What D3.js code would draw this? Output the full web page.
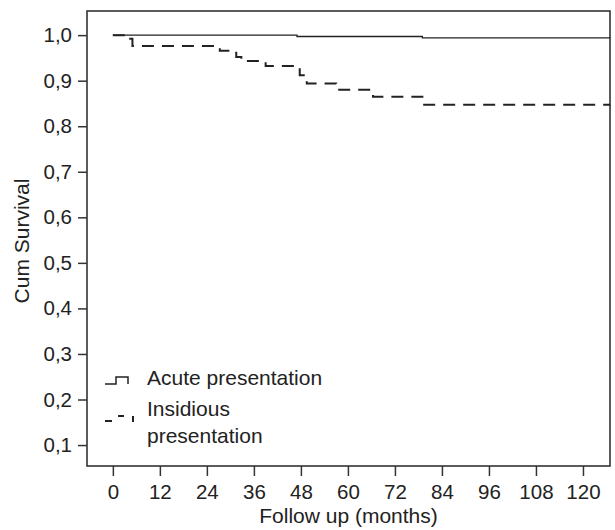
<!DOCTYPE html>
<html>
<head>
<meta charset="utf-8">
<script src="https://cdn.jsdelivr.net/npm/d3@7"></script>
<style>
  body { margin: 0; background: #fff; }
  svg text { font-family: "Liberation Sans", Arial, Helvetica, sans-serif; fill: #222; }
</style>
</head>
<body>
<svg id="chart" width="615" height="530"></svg>
<script>
// survival steps (months, cumulative survival)
const acuteTime = [0, 47, 79, 127];
const acuteSurv = [1.0, 0.997, 0.994, 0.994];
const insidTime = [0, 3.3, 5, 27.3, 31.5, 32.8, 39, 47.7, 49.5, 57, 66.4, 79, 127];
const insidSurv = [1.0, 0.992, 0.976, 0.966, 0.952, 0.943, 0.932, 0.912, 0.894, 0.880, 0.865, 0.847, 0.847];

const xTicks = [0, 12, 24, 36, 48, 60, 72, 84, 96, 108, 120];
const yTicks = [0.1, 0.2, 0.3, 0.4, 0.5, 0.6, 0.7, 0.8, 0.9, 1.0];
const seriesNames = ["Acute presentation", "Insidious", "presentation"];

const svg = d3.select('#chart');
const plotL = 87, plotR = 610, plotT = 11, plotB = 466;

const x = d3.scaleLinear().domain([-6.6, 126.9]).range([plotL, plotR]);
const y = d3.scaleLinear().domain([0.054, 1.053]).range([plotB, plotT]);

const commaFmt = d => d3.format(".1f")(d).replace(".", ",");

// axes
const yAxis = svg.append('g')
  .attr('transform', `translate(${plotL},0)`)
  .call(d3.axisLeft(y).tickValues(yTicks).tickSize(9).tickSizeOuter(0).tickPadding(6).tickFormat(commaFmt));
const xAxis = svg.append('g')
  .attr('transform', `translate(0,${plotB})`)
  .call(d3.axisBottom(x).tickValues(xTicks).tickSize(10).tickSizeOuter(0).tickPadding(8));

[yAxis, xAxis].forEach(a => {
  a.select('.domain').remove();
  a.selectAll('line').attr('stroke', '#333').attr('stroke-width', 1.5);
  a.selectAll('text').style('font-size', '20.5px').attr('fill', '#222');
});

// frame
svg.append('rect')
  .attr('x', plotL).attr('y', plotT)
  .attr('width', plotR - plotL).attr('height', plotB - plotT)
  .attr('fill', 'none').attr('stroke', '#333').attr('stroke-width', 1.6);

// curves
const line = d3.line()
  .x(d => x(d[0]))
  .y(d => y(d[1]))
  .curve(d3.curveStepAfter);

svg.append('path')
  .datum(acuteTime.map((t, i) => [t, acuteSurv[i]]))
  .attr('d', line)
  .attr('fill', 'none').attr('stroke', '#222').attr('stroke-width', 1.3);

svg.append('path')
  .datum(insidTime.map((t, i) => [t, insidSurv[i]]))
  .attr('d', line)
  .attr('fill', 'none').attr('stroke', '#222').attr('stroke-width', 2)
  .attr('stroke-dasharray', '12,8');

// axis titles
svg.append('text')
  .attr('x', (plotL + plotR) / 2)
  .attr('y', 523)
  .attr('text-anchor', 'middle')
  .style('font-size', '21px')
  .text('Follow up (months)');

svg.append('text')
  .attr('transform', 'translate(29,241) rotate(-90)')
  .attr('text-anchor', 'middle')
  .style('font-size', '21px')
  .text('Cum Survival');

// legend
const legendG = svg.append('g');
legendG.append('path')
  .attr('d', 'M105,384 H116 V377 H128 V384')
  .attr('fill', 'none').attr('stroke', '#222').attr('stroke-width', 1.5);
legendG.append('path')
  .attr('d', 'M105,421 H116 V416 H133 V422')
  .attr('fill', 'none').attr('stroke', '#222').attr('stroke-width', 2)
  .attr('stroke-dasharray', '7,11,6,9,6');

legendG.selectAll('text.leg')
  .data(seriesNames)
  .enter()
  .append('text')
  .attr('class', 'leg')
  .attr('x', 147)
  .attr('y', (d, i) => [385, 416, 443][i])
  .style('font-size', '21px')
  .text(d => d);
</script>
</body>
</html>
